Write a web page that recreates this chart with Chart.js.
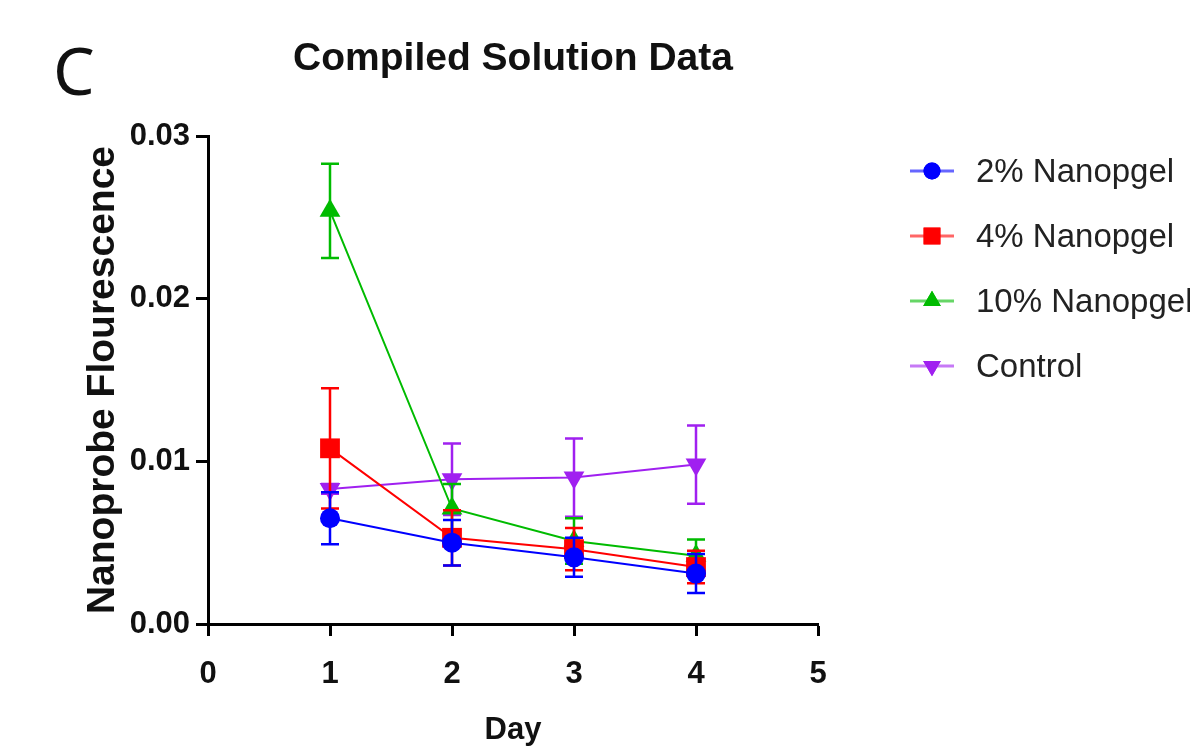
<!DOCTYPE html>
<html>
<head>
<meta charset="utf-8">
<script src="https://cdn.jsdelivr.net/npm/chart.js@4.4.0/dist/chart.umd.min.js"></script>
<style>
  body { margin: 0; background: #fff; overflow: hidden; }
  #wrap { position: relative; width: 1190px; height: 752px; overflow: hidden; }
  #panel { position: absolute; left: 53px; top: 36px; font: 66px "Noto Sans", sans-serif; color: #111; line-height: 1; }
  #title { position: absolute; left: 213px; width: 600px; top: 35px; text-align: center;
           font: bold 39px "Liberation Sans", Arial, sans-serif; color: #111; }
  #legend { position: absolute; left: 908px; top: 138px; width: 400px; }
  .legend-item { display: flex; align-items: center; height: 65px; white-space: nowrap; }
  .legend-item canvas { margin-right: 20px; flex: none; }
  .legend-label { font: 33px "Liberation Sans", Arial, sans-serif; color: #222; white-space: nowrap; }
</style>
</head>
<body>
<div id="wrap">
  <canvas id="chart" width="1190" height="752"></canvas>
  <div id="panel">C</div>
  <div id="title">Compiled Solution Data</div>
  <div id="legend"></div>
</div>
<script>
const days = [1, 2, 3, 4];
const seriesNames = ['2% Nanopgel', '4% Nanopgel', '10% Nanopgel', 'Control'];
const gel2 = [0.0065, 0.0050, 0.0041, 0.0031];
const gel2Err = [0.0016, 0.0014, 0.0012, 0.0012];
const gel4 = [0.0108, 0.0053, 0.0046, 0.0035];
const gel4Err = [0.0037, 0.0017, 0.0013, 0.0010];
const gel10 = [0.0254, 0.0071, 0.0051, 0.0042];
const gel10Err = [0.0029, 0.0015, 0.0014, 0.0010];
const control = [0.0083, 0.0089, 0.0090, 0.0098];
const controlErr = [0.0003, 0.0022, 0.0024, 0.0024];
const xTicks = [0, 1, 2, 3, 4, 5];
const yTicks = [0, 0.01, 0.02, 0.03];

const colors = ['#0000FF', '#FF0000', '#00BB00', '#A020F0'];
const styles = [
  { pointStyle: 'circle', radius: 10, rotation: 0 },
  { pointStyle: 'rect', radius: 14, rotation: 0 },
  { pointStyle: 'triangle', radius: 12, rotation: 0 },
  { pointStyle: 'triangle', radius: 12, rotation: 180 }
];
const values = [gel2, gel4, gel10, control];
const errors = [gel2Err, gel4Err, gel10Err, controlErr];

const datasets = seriesNames.map((name, i) => ({
  label: name,
  data: days.map((d, j) => ({ x: d, y: values[i][j] })),
  err: errors[i],
  borderColor: colors[i],
  backgroundColor: colors[i],
  borderWidth: 2,
  pointStyle: styles[i].pointStyle,
  pointRadius: styles[i].radius,
  pointRotation: styles[i].rotation,
  pointBorderWidth: 0,
  tension: 0
}));

// error bars drawn just before each dataset's line and markers
const errorBars = {
  id: 'errorBars',
  beforeDatasetDraw(chart, args) {
    const ds = chart.data.datasets[args.index];
    const xs = chart.scales.x, ys = chart.scales.y;
    const ctx = chart.ctx;
    ctx.save();
    ctx.strokeStyle = ds.borderColor;
    ctx.lineWidth = 2.5;
    ds.data.forEach((p, j) => {
      const x = xs.getPixelForValue(p.x);
      const top = ys.getPixelForValue(p.y + ds.err[j]);
      const bot = ys.getPixelForValue(p.y - ds.err[j]);
      ctx.beginPath();
      ctx.moveTo(x, top); ctx.lineTo(x, bot);
      ctx.moveTo(x - 9, top); ctx.lineTo(x + 9, top);
      ctx.moveTo(x - 9, bot); ctx.lineTo(x + 9, bot);
      ctx.stroke();
    });
    ctx.restore();
  }
};

const tickFont = { family: '"Liberation Sans", Arial, sans-serif', size: 31, weight: 'bold' };

const chart = new Chart(document.getElementById('chart').getContext('2d'), {
  type: 'line',
  data: { datasets: datasets },
  options: {
    responsive: false,
    animation: false,
    layout: { padding: { left: 76, right: 372, top: 136, bottom: 0 } },
    plugins: { legend: { display: false }, tooltip: { enabled: false } },
    scales: {
      x: {
        type: 'linear',
        min: 0, max: 5,
        afterBuildTicks: (scale) => { scale.ticks = xTicks.map(v => ({ value: v })); },
        afterFit: (scale) => { scale.height = 128; },
        ticks: { color: '#111', font: tickFont, padding: 20 },
        grid: { drawOnChartArea: false, tickLength: 12, tickWidth: 3, tickColor: '#000' },
        border: { color: '#000', width: 3 },
        title: { display: true, text: 'Day', color: '#111', font: tickFont, padding: { top: 0, bottom: 3 } }
      },
      y: {
        min: 0, max: 0.03,
        afterBuildTicks: (scale) => { scale.ticks = yTicks.map(v => ({ value: v })); },
        afterFit: (scale) => { scale.width = 132; },
        ticks: { color: '#111', font: tickFont, padding: 6, callback: (v) => v.toFixed(2) },
        grid: { drawOnChartArea: false, tickLength: 12, tickWidth: 3, tickColor: '#000' },
        border: { color: '#000', width: 3 },
        title: { display: true, text: 'Nanoprobe Flourescence', color: '#111', font: { ...tickFont, size: 39 }, padding: { top: 4, bottom: 0 } }
      }
    }
  },
  plugins: [errorBars]
});

// custom legend: short line with the marker in the middle
const legend = document.getElementById('legend');
chart.data.datasets.forEach((ds) => {
  const item = document.createElement('div');
  item.classList.add('legend-item');
  const icon = document.createElement('canvas');
  icon.width = 48; icon.height = 30;
  const c = icon.getContext('2d');
  c.globalAlpha = 0.6;
  c.strokeStyle = ds.borderColor;
  c.lineWidth = 3;
  c.beginPath(); c.moveTo(2, 15); c.lineTo(46, 15); c.stroke();
  c.globalAlpha = 1;
  c.fillStyle = ds.backgroundColor;
  Chart.helpers.drawPoint(c, { pointStyle: ds.pointStyle, radius: ds.pointRadius * 0.85, rotation: ds.pointRotation, borderWidth: 0 }, 24, 15);
  c.fill();
  item.appendChild(icon);
  const label = document.createElement('div');
  label.classList.add('legend-label');
  label.textContent = ds.label;
  item.appendChild(label);
  legend.appendChild(item);
});
</script>
</body>
</html>
